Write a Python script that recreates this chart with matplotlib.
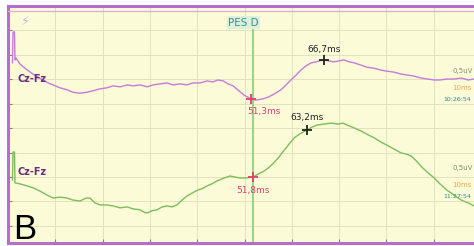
import numpy as np
import matplotlib.pyplot as plt
from matplotlib.ticker import MultipleLocator
from matplotlib.lines import Line2D

# time (ms) / amplitude (uV), 0.5 uV per division
top_t = [0.95, 1.06, 1.37, 1.48, 1.69, 2.5, 3.6, 4.7, 5.9, 7.4, 8.5, 9.5, 11.0, 12.5, 13.7,
         15.2, 16.7, 18.0, 19.5, 20.9, 22.2, 23.7, 25.2, 26.4, 27.9, 29.4, 30.7, 32.1, 33.6,
         34.9, 36.4, 37.8, 39.1, 40.6, 42.1, 43.3, 44.4, 45.5, 46.5, 47.6, 48.8, 49.9, 50.7,
         51.3, 52.4, 53.7, 55.0, 56.2, 57.7, 58.8, 59.8, 60.9, 61.9, 63.0, 64.1, 65.1, 66.7,
         67.7, 68.9, 70.0, 71.0, 72.1, 73.2, 74.4, 75.9, 77.4, 78.9, 80.1, 81.6, 83.1, 84.4,
         85.8, 87.3, 88.6, 90.1, 91.3, 92.8, 94.3, 95.8, 97.3, 98.5]
top_v = [0.33, 0.96, 0.96, 0.39, 0.43, 0.31, 0.22, 0.14, 0.06, -0.02, -0.08, -0.12, -0.18,
         -0.22, -0.27, -0.29, -0.27, -0.24, -0.20, -0.18, -0.14, -0.16, -0.12, -0.14, -0.12,
         -0.16, -0.12, -0.10, -0.08, -0.12, -0.10, -0.12, -0.08, -0.08, -0.04, -0.06, -0.02,
         -0.04, -0.10, -0.14, -0.24, -0.33, -0.37, -0.41, -0.43, -0.41, -0.37, -0.31, -0.22,
         -0.12, -0.02, 0.08, 0.18, 0.27, 0.33, 0.35, 0.39, 0.37, 0.35, 0.37, 0.39, 0.35, 0.33,
         0.29, 0.24, 0.22, 0.18, 0.16, 0.14, 0.10, 0.08, 0.06, 0.02, 0.0, -0.02, -0.02, 0.0,
         0.0, 0.02, -0.02, 0.0]

bot_t = [0.95, 1.06, 1.37, 1.48, 2.5, 4.0, 5.3, 6.8, 8.3, 9.5, 11.0, 12.5, 13.7, 15.2, 16.5,
         17.3, 18.4, 19.5, 20.9, 22.2, 23.7, 25.2, 26.4, 27.9, 29.0, 29.6, 30.4, 31.5, 32.6,
         33.6, 34.7, 35.7, 36.8, 37.8, 38.9, 40.0, 41.0, 42.1, 43.1, 44.2, 45.7, 46.9, 48.0,
         49.0, 50.2, 51.8, 52.9, 54.1, 55.2, 56.2, 57.3, 58.4, 59.4, 60.5, 61.7, 63.2, 64.3,
         65.3, 66.8, 68.3, 69.8, 70.8, 71.7, 73.2, 74.6, 76.1, 77.4, 78.9, 80.1, 81.6, 83.1,
         84.1, 85.2, 86.3, 87.3, 88.6, 90.1, 91.3, 92.8, 94.3, 95.8, 97.3, 98.5]
bot_v = [-0.06, 0.51, 0.51, -0.12, -0.14, -0.18, -0.22, -0.29, -0.37, -0.43, -0.41, -0.43,
         -0.47, -0.49, -0.43, -0.43, -0.53, -0.57, -0.57, -0.59, -0.63, -0.61, -0.65, -0.67,
         -0.73, -0.73, -0.69, -0.67, -0.61, -0.59, -0.61, -0.57, -0.47, -0.39, -0.33, -0.27,
         -0.24, -0.18, -0.14, -0.08, -0.02, 0.02, 0.0, -0.02, -0.02, 0.0, 0.06, 0.12, 0.20,
         0.29, 0.41, 0.55, 0.67, 0.80, 0.88, 0.96, 1.02, 1.06, 1.08, 1.10, 1.08, 1.10, 1.06,
         1.0, 0.94, 0.86, 0.80, 0.71, 0.65, 0.57, 0.49, 0.47, 0.43, 0.33, 0.22, 0.10, -0.02,
         -0.14, -0.27, -0.37, -0.47, -0.53, -0.59]

top_offset = 2.0          # channel baseline (uV)
bot_offset = 0.0
top_marks = [51.3, 66.7]
bot_marks = [51.8, 63.2]
cursor_ms = 51.8          # PES D cursor
sweep_ms = 98.5

bg = '#fbfbd8'
purple = '#b36fcb'
c_top = '#c77bd8'
c_bot = '#7dbd5b'
c_red = '#e0406e'

fig = plt.figure(figsize=(4.74, 2.46), dpi=100, facecolor='white')
ax = fig.add_axes([8 / 474, 3 / 246, 1 - 8 / 474, 237 / 246])
ax.set_facecolor(bg)
ax.set_xlim(0, sweep_ms)
ax.set_ylim(-1.347, 3.49)
ax.xaxis.set_major_locator(MultipleLocator(10))
ax.yaxis.set_major_locator(MultipleLocator(0.5))
ax.grid(True, color='#e2e2bf', lw=0.7)
ax.tick_params(direction='in', length=3, width=0.8, color='#9070b0',
               labelbottom=False, labelleft=False)
for s in ['left', 'top', 'bottom']:
    ax.spines[s].set_color(purple)
    ax.spines[s].set_linewidth(2.2)
ax.spines['right'].set_visible(False)
fig.add_artist(Line2D([8 / 474, 1], [1 - 10.5 / 246] * 2, color='#d9b2e4', lw=1.0))

ax.axvline(cursor_ms, color='#8fd27e', lw=1.3, ymax=0.93, zorder=2)
ax.text(cursor_ms - 2, 3.15, 'PES D', color='#2f9494', fontsize=7.5, ha='center',
        va='center', bbox=dict(boxstyle='square,pad=0.15', fc='#dff0da', ec='none'))

ax.plot(top_t, np.array(top_v) + top_offset, color=c_top, lw=1.0, zorder=3)
ax.plot(bot_t, np.array(bot_v) + bot_offset, color=c_bot, lw=1.0, zorder=3)


def label(m):
    return ('%.1fms' % m).replace('.', ',')


# top trace markers
for m, col, off in [(top_marks[0], c_red, (13, -12)), (top_marks[1], '#222222', (1, 10))]:
    y = np.interp(m, top_t, top_v) + top_offset
    ax.plot(m, y, '+', color=col, ms=7, mew=1.3, zorder=4)
    ax.annotate(label(m), (m, y), xytext=off, textcoords='offset pixels', ha='center',
                va='center', fontsize=6.5, color=col)
# bottom trace markers
for m, col, off in [(bot_marks[0], c_red, (0, -13)), (bot_marks[1], '#222222', (0, 12))]:
    y = np.interp(m, bot_t, bot_v) + bot_offset
    ax.plot(m, y, '+', color=col, ms=7, mew=1.3, zorder=4)
    ax.annotate(label(m), (m, y), xytext=off, textcoords='offset pixels', ha='center',
                va='center', fontsize=6.5, color=col)

ax.text(2.1, 2.0, 'Cz-Fz', color='#6a2c7e', fontsize=7, fontweight='bold', va='center')
ax.text(2.1, 0.1, 'Cz-Fz', color='#6a2c7e', fontsize=7, fontweight='bold', va='center')

for y0, stamp in [(2.16, '10:26:54'), (0.18, '11:27:54')]:
    ax.text(93.9, y0, '0,5uV', color='#7c9270', fontsize=5, va='center')
    ax.text(93.9, y0 - 0.34, '10ms', color='#eea64e', fontsize=5, va='center')
    ax.text(92.0, y0 - 0.58, stamp, color='#2e8a8a', fontsize=4.5, va='center')

ax.text(3.6, 3.18, '\u26a1', color='#b4bce2', fontsize=9, ha='center', va='center')
ax.text(1.0, -1.265, 'B', fontsize=25, family='Liberation Sans', va='baseline', ha='left')

plt.savefig('out.png', dpi=100)
